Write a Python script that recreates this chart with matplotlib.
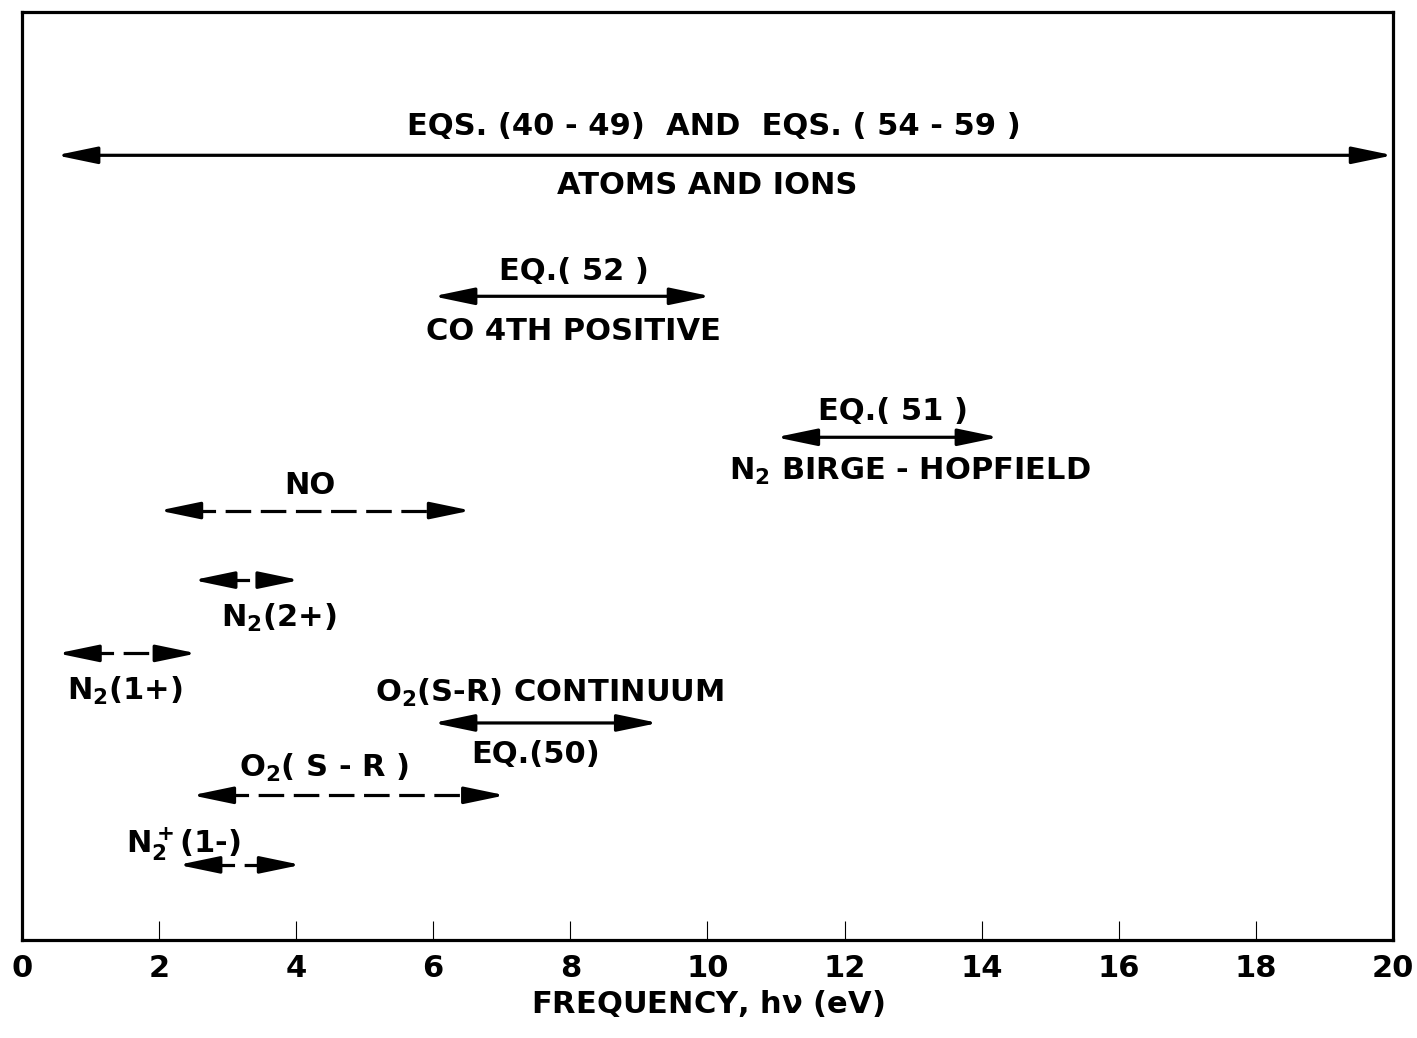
import matplotlib
matplotlib.use('Agg')
import matplotlib.pyplot as plt

plt.rcParams['font.family'] = 'DejaVu Sans'
plt.rcParams['font.weight'] = 'bold'
plt.rcParams['mathtext.default'] = 'bf'

# ranges in eV (start, end), level on a 0-100 vertical scale, dashed or not
names = ['atoms', 'co4', 'n2bh', 'no', 'n2_2p', 'n2_1p', 'o2src', 'o2sr', 'n2p_1m']
starts = [0.5, 6.0, 11.0, 2.0, 2.5, 0.52, 6.0, 2.48, 2.28]
ends = [20.0, 10.05, 14.25, 6.55, 4.05, 2.55, 9.28, 7.05, 4.07]
levels = [84.6, 69.4, 54.2, 46.3, 38.8, 30.9, 23.4, 15.6, 8.1]
dashed = [False, False, False, True, True, True, False, True, True]

# labels: (text, x, y)
labels = [
    ('EQS. (40 - 49)  AND  EQS. ( 54 - 59 )', 10.1, 87.7),
    ('ATOMS AND IONS', 10.0, 81.3),
    ('EQ.( 52 )', 8.05, 72.1),
    ('CO 4TH POSITIVE', 8.05, 65.6),
    ('EQ.( 51 )', 12.7, 57.0),
    (r'N$_2$ BIRGE - HOPFIELD', 12.95, 50.5),
    ('NO', 4.2, 49.0),
    (r'N$_2$(2+)', 3.75, 34.7),
    (r'N$_2$(1+)', 1.5, 26.8),
    (r'O$_2$(S-R) CONTINUUM', 7.7, 26.6),
    ('EQ.(50)', 7.5, 20.0),
    (r'O$_2$( S - R )', 4.4, 18.5),
    (r'N$_2^+$(1-)', 2.35, 10.3),
]

fig = plt.figure(figsize=(14.17, 10.38), dpi=100)
ax = fig.add_axes([0.0155, 0.0944, 0.9675, 0.8936])
ax.set_xlim(0, 20)
ax.set_ylim(0, 100)

head = dict(arrowstyle='-|>,head_length=1.25,head_width=0.26',
            mutation_scale=20, lw=2.3, color='black', shrinkA=0, shrinkB=0)
hl = 0.5  # head length in eV, about 35 px

for s, e, y, d in zip(starts, ends, levels, dashed):
    if d:
        ax.plot([s + hl * 0.9, e - hl * 0.9], [y, y], color='black', lw=2.3,
                dashes=(8, 3), dash_capstyle='butt')
        ax.annotate('', xy=(s, y), xytext=(s + hl, y), arrowprops=head)
        ax.annotate('', xy=(e, y), xytext=(e - hl, y), arrowprops=head)
    else:
        ax.annotate('', xy=(e, y), xytext=(s, y),
                    arrowprops=dict(head, arrowstyle='<|-|>,head_length=1.25,head_width=0.26'))

for t, x, y in labels:
    ax.text(x, y, t, ha='center', va='center', fontsize=22, fontweight='bold')

ax.set_xticks(range(0, 21, 2))
ax.set_yticks([])
ax.tick_params(axis='x', direction='in', length=14, width=0.8, labelsize=22, pad=10)
for sp in ax.spines.values():
    sp.set_linewidth(2.3)
ax.set_xlabel(r'FREQUENCY, h$\nu$ (eV)', fontsize=22, fontweight='bold', labelpad=4)

fig.savefig('out.png', dpi=100)
